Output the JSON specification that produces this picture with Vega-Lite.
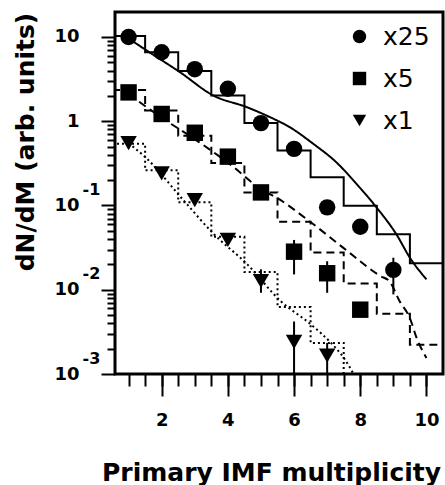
{
  "$schema": "https://vega.github.io/schema/vega-lite/v6.json",
  "autosize": "none",
  "padding": {"left": 115, "top": 12, "right": 2, "bottom": 111},
  "width": 328,
  "height": 362,
  "background": "white",
  "config": {
    "view": {"stroke": "black", "strokeWidth": 3},
    "axis": {
      "domain": false, "grid": false, "tickColor": "black", "tickWidth": 2,
      "labelColor": "black", "labelFont": "DejaVu Sans", "labelFontWeight": "bold", "labelFontSize": 18,
      "labelOverlap": false, "labelFlush": false, "labelBound": false,
      "titleColor": "black", "titleFont": "DejaVu Sans", "titleFontWeight": "bold", "titleFontSize": 25
    },
    "legend": {
      "labelFont": "DejaVu Sans", "labelFontSize": 25, "labelFontWeight": "normal", "labelColor": "black",
      "symbolSize": 180, "symbolFillColor": "black", "symbolStrokeColor": "black",
      "labelOffset": 11, "rowPadding": 16, "padding": 0
    }
  },
  "datasets": {
    "pts": [
      {"s": "x25", "m": 1, "v": 10}, {"s": "x25", "m": 2, "v": 6.6}, {"s": "x25", "m": 3, "v": 4.15},
      {"s": "x25", "m": 4, "v": 2.43}, {"s": "x25", "m": 5, "v": 0.95}, {"s": "x25", "m": 6, "v": 0.47},
      {"s": "x25", "m": 7, "v": 0.095}, {"s": "x25", "m": 8, "v": 0.056}, {"s": "x25", "m": 9, "v": 0.0172},
      {"s": "x5", "m": 1, "v": 2.2}, {"s": "x5", "m": 2, "v": 1.22}, {"s": "x5", "m": 3, "v": 0.73},
      {"s": "x5", "m": 4, "v": 0.38}, {"s": "x5", "m": 5, "v": 0.143}, {"s": "x5", "m": 6, "v": 0.0283},
      {"s": "x5", "m": 7, "v": 0.0157}, {"s": "x5", "m": 8, "v": 0.0058},
      {"s": "x1", "m": 1, "v": 0.55}, {"s": "x1", "m": 2, "v": 0.24}, {"s": "x1", "m": 3, "v": 0.116},
      {"s": "x1", "m": 4, "v": 0.039}, {"s": "x1", "m": 5, "v": 0.0127}, {"s": "x1", "m": 6, "v": 0.0024},
      {"s": "x1", "m": 7, "v": 0.00165}
    ],
    "err": [
      {"s": "x25", "m": 9, "lo": 0.0088, "hi": 0.024},
      {"s": "x5", "m": 6, "lo": 0.0152, "hi": 0.039},
      {"s": "x5", "m": 7, "lo": 0.0092, "hi": 0.0218},
      {"s": "x5", "m": 8, "lo": 0.0047, "hi": 0.0071},
      {"s": "x1", "m": 5, "lo": 0.0092, "hi": 0.0175},
      {"s": "x1", "m": 6, "lo": 0.001, "hi": 0.0042},
      {"s": "x1", "m": 7, "lo": 0.001, "hi": 0.00234}
    ],
    "hist": [
      {"s": "x25", "e": 0.5, "v": 10.3}, {"s": "x25", "e": 1.5, "v": 6.6}, {"s": "x25", "e": 2.5, "v": 3.94},
      {"s": "x25", "e": 3.5, "v": 2.02}, {"s": "x25", "e": 4.5, "v": 0.95}, {"s": "x25", "e": 5.5, "v": 0.45},
      {"s": "x25", "e": 6.5, "v": 0.216}, {"s": "x25", "e": 7.5, "v": 0.099}, {"s": "x25", "e": 8.5, "v": 0.0456},
      {"s": "x25", "e": 9.5, "v": 0.0206}, {"s": "x25", "e": 10.5, "v": 0.0206},
      {"s": "x5", "e": 0.5, "v": 2.35}, {"s": "x5", "e": 1.5, "v": 1.34}, {"s": "x5", "e": 2.5, "v": 0.675},
      {"s": "x5", "e": 3.5, "v": 0.32}, {"s": "x5", "e": 4.5, "v": 0.143}, {"s": "x5", "e": 5.5, "v": 0.064},
      {"s": "x5", "e": 6.5, "v": 0.0276}, {"s": "x5", "e": 7.5, "v": 0.0119}, {"s": "x5", "e": 8.5, "v": 0.0052},
      {"s": "x5", "e": 9.5, "v": 0.00223}, {"s": "x5", "e": 10.5, "v": 0.00223},
      {"s": "x1", "e": 0.5, "v": 0.54}, {"s": "x1", "e": 1.5, "v": 0.262}, {"s": "x1", "e": 2.5, "v": 0.109},
      {"s": "x1", "e": 3.5, "v": 0.0425}, {"s": "x1", "e": 4.5, "v": 0.0162}, {"s": "x1", "e": 5.5, "v": 0.00625},
      {"s": "x1", "e": 6.5, "v": 0.00234}, {"s": "x1", "e": 7.5, "v": 0.0005}, {"s": "x1", "e": 8.5, "v": 0.0005}
    ],
    "curve": [
      {"s": "x25", "m": 1.0, "v": 9.6}, {"s": "x25", "m": 1.55, "v": 6.9}, {"s": "x25", "m": 2.55, "v": 3.83},
      {"s": "x25", "m": 3.56, "v": 2.02}, {"s": "x25", "m": 4.57, "v": 1.47}, {"s": "x25", "m": 5.27, "v": 1.12},
      {"s": "x25", "m": 5.87, "v": 0.85}, {"s": "x25", "m": 6.58, "v": 0.54}, {"s": "x25", "m": 7.28, "v": 0.325},
      {"s": "x25", "m": 7.89, "v": 0.18}, {"s": "x25", "m": 8.49, "v": 0.095}, {"s": "x25", "m": 9.09, "v": 0.0456},
      {"s": "x25", "m": 9.5, "v": 0.024}, {"s": "x25", "m": 10.0, "v": 0.0133},
      {"s": "x5", "m": 1.0, "v": 2.1}, {"s": "x5", "m": 2.05, "v": 1.07}, {"s": "x5", "m": 3.06, "v": 0.59},
      {"s": "x5", "m": 4.06, "v": 0.31}, {"s": "x5", "m": 5.07, "v": 0.15}, {"s": "x5", "m": 5.47, "v": 0.124},
      {"s": "x5", "m": 6.38, "v": 0.069}, {"s": "x5", "m": 7.48, "v": 0.0316}, {"s": "x5", "m": 8.6, "v": 0.0146},
      {"s": "x5", "m": 8.89, "v": 0.0125}, {"s": "x5", "m": 9.19, "v": 0.0073}, {"s": "x5", "m": 9.5, "v": 0.0046},
      {"s": "x5", "m": 9.7, "v": 0.0027}, {"s": "x5", "m": 10.0, "v": 0.00155},
      {"s": "x1", "m": 1.0, "v": 0.55}, {"s": "x1", "m": 1.52, "v": 0.37}, {"s": "x1", "m": 2.67, "v": 0.114},
      {"s": "x1", "m": 3.58, "v": 0.0456}, {"s": "x1", "m": 4.59, "v": 0.02}, {"s": "x1", "m": 5.6, "v": 0.0073},
      {"s": "x1", "m": 6.5, "v": 0.0039}, {"s": "x1", "m": 7.18, "v": 0.0022}, {"s": "x1", "m": 7.48, "v": 0.0016},
      {"s": "x1", "m": 7.8, "v": 0.001}
    ]
  },
  "resolve": {"axis": {"x": "independent", "y": "independent"}},
  "layer": [
    {
      "data": {"name": "hist"},
      "mark": {"type": "line", "interpolate": "step-after", "strokeWidth": 2, "color": "black", "clip": true},
      "encoding": {
        "x": {"field": "e", "type": "quantitative",
              "scale": {"domain": [0.59, 10.5], "nice": false, "zero": false},
              "axis": {"orient": "bottom", "values": [1, 1.5, 2, 2.5, 3, 3.5, 4, 4.5, 5, 5.5, 6, 6.5, 7, 7.5, 8, 8.5, 9, 9.5, 10],
                       "tickSize": 12, "labels": false, "title": null}},
        "y": {"field": "v", "type": "quantitative",
              "scale": {"type": "log", "domain": [0.001, 19.8], "nice": false},
              "axis": {"orient": "left", "values": [0.002, 0.003, 0.004, 0.005, 0.006, 0.007, 0.008, 0.009, 0.02, 0.03, 0.04, 0.05, 0.06, 0.07, 0.08, 0.09, 0.2, 0.3, 0.4, 0.5, 0.6, 0.7, 0.8, 0.9, 2, 3, 4, 5, 6, 7, 8, 9],
                       "tickSize": 8, "labels": false, "title": null}},
        "strokeDash": {"field": "s", "type": "nominal",
                       "scale": {"domain": ["x1", "x5", "x25"], "range": [[2, 3], [8, 5], [1, 0]]},
                       "legend": null}
      }
    },
    {
      "data": {"name": "curve"},
      "mark": {"type": "line", "interpolate": "monotone", "strokeWidth": 2, "color": "black", "clip": true},
      "encoding": {
        "x": {"field": "m", "type": "quantitative", "scale": {"domain": [0.59, 10.5], "nice": false, "zero": false}, "axis": null},
        "y": {"field": "v", "type": "quantitative", "scale": {"type": "log", "domain": [0.001, 19.8], "nice": false}, "axis": null},
        "strokeDash": {"field": "s", "type": "nominal",
                       "scale": {"domain": ["x1", "x5", "x25"], "range": [[2, 3], [8, 5], [1, 0]]},
                       "legend": null}
      }
    },
    {
      "data": {"name": "err"},
      "mark": {"type": "rule", "strokeWidth": 2, "color": "black", "clip": true},
      "encoding": {
        "x": {"field": "m", "type": "quantitative", "scale": {"domain": [0.59, 10.5], "nice": false, "zero": false}, "axis": null},
        "y": {"field": "lo", "type": "quantitative",
              "scale": {"type": "log", "domain": [0.001, 19.8], "nice": false},
              "axis": {"orient": "left", "values": [0.1, 0.01, 0.001], "ticks": false, "labelAlign": "left",
                       "labelPadding": 33, "labelOffset": -16, "labelFontSize": 16, "title": null,
                       "labelExpr": "datum.value == 0.1 ? '-1' : datum.value == 0.01 ? '-2' : '-3'"}},
        "y2": {"field": "hi"}
      }
    },
    {
      "data": {"name": "pts"},
      "mark": {"type": "point", "filled": true, "color": "black", "size": 270, "opacity": 1},
      "encoding": {
        "x": {"field": "m", "type": "quantitative",
              "scale": {"domain": [0.59, 10.5], "nice": false, "zero": false},
              "axis": {"orient": "bottom", "values": [2, 4, 6, 8, 10], "tickSize": 22, "labelPadding": 15,
                       "title": "Primary IMF multiplicity", "titleX": 156, "titleY": 106, "titleBaseline": "alphabetic"}},
        "y": {"field": "v", "type": "quantitative",
              "scale": {"type": "log", "domain": [0.001, 19.8], "nice": false},
              "axis": {"orient": "left", "values": [0.001, 0.01, 0.1, 1, 10], "tickSize": 14, "labelPadding": 22,
                       "labelExpr": "datum.value == 1 ? '1' : '10'",
                       "title": "dN/dM (arb. units)", "titleX": -90, "titleY": 129.5, "titleBaseline": "middle"}},
        "shape": {"field": "s", "type": "nominal",
                  "scale": {"domain": ["x25", "x5", "x1"], "range": ["circle", "square", "triangle-down"]},
                  "legend": {"orient": "none", "legendX": 232, "legendY": 12, "direction": "vertical", "title": null}}
      }
    }
  ]
}
